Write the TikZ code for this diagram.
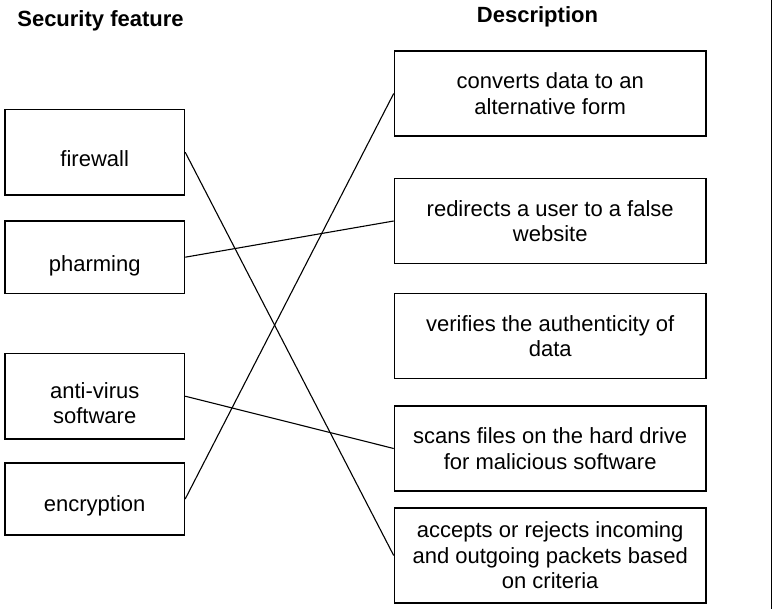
\documentclass[tikz,border=0pt]{standalone}
\usepackage{fontspec}
\setmainfont{Liberation Sans}
\begin{document}
\begin{tikzpicture}[x=1pt,y=-1pt,
  every node/.style={font=\fontsize{22}{25.5}\selectfont},
  box/.style={draw, line width=1.5pt, inner sep=0pt, align=center},
  leftbox/.style={box, minimum width=179.5pt},
  rightbox/.style={box, minimum width=311.5pt, minimum height=85pt},
  link/.style={line width=1.1pt},
  heading/.style={font=\fontsize{22}{25.5}\selectfont\bfseries, anchor=base}]
\useasboundingbox (0,0) rectangle (776,609);

% column headings
\node[heading] (hfeat) at (100.5,27) {Security feature};
\node[heading] (hdesc) at (537.5,23) {Description};

% security features (text sits a little below the box centre)
\node[leftbox, minimum height=85.5pt, label={[yshift=-6.5pt]center:firewall}] (fw) at (94.7,152.2) {};
\node[leftbox, minimum height=72.5pt, label={[yshift=-8.5pt]center:pharming}] (ph) at (94.7,257.2) {};
\node[leftbox, minimum height=85.5pt, label={[yshift=-7pt,align=center]center:anti-virus\\software}] (av) at (94.7,396.2) {};
\node[leftbox, minimum height=72pt, label={[yshift=-7pt]center:encryption}] (en) at (94.7,499) {};

% descriptions
\node[rightbox] (cv) at (550.2,93.5) {converts data to an\\alternative form};
\node[rightbox] (rd) at (550.2,221) {redirects a user to a false\\website};
\node[rightbox] (vf) at (550.2,336) {verifies the authenticity of\\data};
\node[rightbox] (sc) at (550.2,448.5) {scans files on the hard drive\\for malicious software};
\node[rightbox, minimum height=95pt] (ac) at (550.2,555.5) {accepts or rejects incoming\\and outgoing packets based\\on criteria};

% matching lines
\draw[link] (fw.east) -- (ac.west);
\draw[link] (ph.east) -- (rd.west);
\draw[link] (av.east) -- (sc.west);
\draw[link] (en.east) -- (cv.west);

% right margin rule
\coordinate (rt) at (771.5,0);
\coordinate (rb) at (771.5,609);
\draw[line width=1.2pt] (rt) -- (rb);
\end{tikzpicture}
\end{document}
